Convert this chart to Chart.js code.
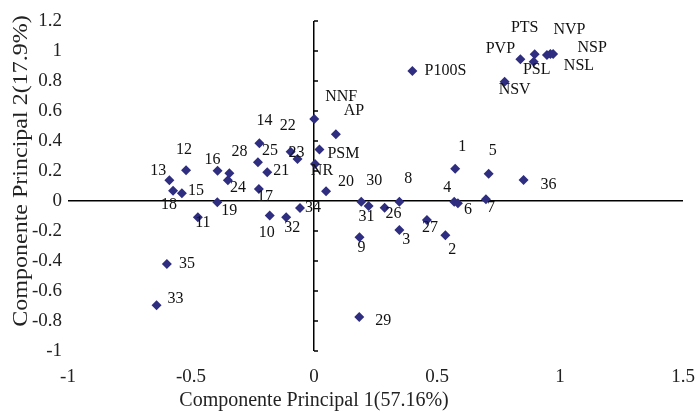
<!DOCTYPE html>
<html>
<head>
<meta charset="utf-8">
<script src="https://cdn.jsdelivr.net/npm/chart.js@4.4.1/dist/chart.umd.min.js"></script>
<style>
  html, body { margin: 0; padding: 0; background: #fff; }
</style>
</head>
<body>
<canvas id="pcaChart" width="699" height="413"></canvas>
<script>
const pointNames = ['1', '2', '3', '4', '5', '6', '7', '8', '9', '10', '11', '12',
    '13', '14', '15', '16', '17', '18', '19', '20', '21', '22', '23', '24',
    '25', '26', '27', '28', '29', '30', '31', '32', '33', '34', '35', '36',
    'NNF', 'AP', 'PSM', 'NR', 'P100S', 'PVP', 'PTS', 'PSL', 'NSL', 'NVP', 'NSP', 'NSV'];

const pc1 = [0.574, 0.534, 0.347, 0.570, 0.710, 0.585, 0.699, 0.347, 0.185, -0.180, -0.472, -0.520,
    -0.588, -0.222, -0.537, -0.392, -0.224, -0.573, -0.393, 0.049, -0.190, -0.095, -0.067, -0.350,
    -0.228, 0.287, 0.459, -0.344, 0.184, 0.192, 0.222, -0.113, -0.640, -0.057, -0.598, 0.852,
    0.001, 0.089, 0.022, 0.004, 0.400, 0.839, 0.897, 0.893, 0.947, 0.961, 0.972, 0.775];

const pc2 = [0.215, -0.229, -0.193, -0.005, 0.182, -0.015, 0.011, -0.005, -0.242, -0.097, -0.109, 0.205,
    0.138, 0.385, 0.051, 0.202, 0.080, 0.069, -0.009, 0.065, 0.191, 0.329, 0.280, 0.138,
    0.258, -0.045, -0.127, 0.185, -0.773, -0.005, -0.033, -0.109, -0.695, -0.047, -0.420, 0.140,
    0.547, 0.445, 0.343, 0.247, 0.867, 0.945, 0.978, 0.929, 0.973, 0.980, 0.980, 0.795];

const xTickValues = [-1, -0.5, 0, 0.5, 1, 1.5];
const yTickValues = [-1, -0.8, -0.6, -0.4, -0.2, 0, 0.2, 0.4, 0.6, 0.8, 1, 1.2];

const xTitle = 'Componente Principal 1(57.16%)';
const yTitle = 'Componente Principal 2(17.9%)';

// where each name is written relative to its marker, in pixels
const labelOffsets = {
    '1': [7, -22], '2': [7, 14], '3': [7, 10], '4': [-7, -14], '5': [4, -23], '6': [10, 7],
    '7': [5, 8], '8': [9, -23], '9': [2, 10], '10': [-3, 17], '11': [5, 5], '12': [-2, -20],
    '13': [-11, -10], '14': [5, -22], '15': [14, -3], '16': [-5, -11], '17': [6, 8], '18': [-4, 14],
    '19': [12, 8], '20': [20, -9], '21': [14, -2], '22': [-3, -26], '23': [-1, -6], '24': [10, 7],
    '25': [12, -12], '26': [9, 6], '27': [3, 8], '28': [10, -21], '29': [24, 4], '30': [13, -21],
    '31': [-2, 11], '32': [6, 10], '33': [19, -6], '34': [13, 0], '35': [20, 0], '36': [25, 5],
    'NNF': [27, -22], 'AP': [18, -23], 'PSM': [24, 4], 'NR': [7, 7], 'P100S': [33, 0],
    'PVP': [-20, -10], 'PTS': [-10, -27], 'PSL': [3, 8], 'NSL': [32, 11], 'NVP': [19, -24],
    'NSP': [39, -6], 'NSV': [10, 8]
};

const SERIF = '"Liberation Serif", "Times New Roman", serif';
const MARK = '#2E2D80';

const points = pc1.map((x, i) => ({ x: x, y: pc2[i] }));

const pointNamePlugin = {
    id: 'pointNames',
    afterDatasetsDraw(chart) {
        const ctx = chart.ctx;
        const meta = chart.getDatasetMeta(0);
        ctx.save();
        ctx.font = '16px ' + SERIF;
        ctx.fillStyle = '#111';
        ctx.textAlign = 'center';
        ctx.textBaseline = 'middle';
        meta.data.forEach((el, i) => {
            const name = pointNames[i];
            const off = labelOffsets[name] || [0, -12];
            ctx.fillText(name, el.x + off[0], el.y + off[1]);
        });
        ctx.restore();
    }
};

const axisPlugin = {
    id: 'crossAxes',
    afterDraw(chart) {
        const ctx = chart.ctx;
        const xs = chart.scales.x;
        const ys = chart.scales.y;
        const x0 = xs.getPixelForValue(0);
        ctx.save();
        // small tick marks on the vertical axis
        ctx.strokeStyle = '#000';
        ctx.lineWidth = 1.5;
        ctx.beginPath();
        yTickValues.forEach(v => {
            const y = ys.getPixelForValue(v);
            ctx.moveTo(x0, y);
            ctx.lineTo(x0 + 4, y);
        });
        ctx.stroke();

        // axis titles
        ctx.fillStyle = '#222';
        ctx.font = '20px ' + SERIF;
        ctx.textAlign = 'center';
        ctx.textBaseline = 'middle';
        ctx.fillText(xTitle, 314, 401);

        ctx.translate(22, 171);
        ctx.rotate(-Math.PI / 2);
        ctx.scale(1.2, 1);
        ctx.fillText(yTitle, 0, 0);
        ctx.restore();
    }
};

const zeroLine = c => (c.tick && c.tick.value === 0) ? '#000' : 'rgba(0,0,0,0)';

new Chart(document.getElementById('pcaChart'), {
    type: 'scatter',
    data: {
        datasets: [{
            data: points,
            pointStyle: 'rectRot',
            pointRadius: 5,
            backgroundColor: MARK,
            borderColor: MARK,
            borderWidth: 0
        }]
    },
    options: {
        responsive: false,
        animation: false,
        events: [],
        layout: { padding: { top: 21, right: 16, left: 0, bottom: 0 } },
        plugins: {
            legend: { display: false },
            tooltip: { enabled: false }
        },
        scales: {
            x: {
                type: 'linear',
                min: -1,
                max: 1.5,
                afterBuildTicks: axis => { axis.ticks = xTickValues.map(v => ({ value: v })); },
                afterFit: axis => {
                    axis.height = 62;
                    axis.paddingLeft = 0;
                    axis.paddingRight = 0;
                },
                border: { display: false },
                grid: { color: zeroLine, lineWidth: 1.5, drawTicks: false },
                ticks: {
                    padding: 15,
                    color: '#222',
                    font: { family: SERIF, size: 19 },
                    callback: v => String(v)
                }
            },
            y: {
                type: 'linear',
                min: -1,
                max: 1.2,
                afterBuildTicks: axis => { axis.ticks = yTickValues.map(v => ({ value: v })); },
                afterFit: axis => {
                    axis.width = 68;
                    axis.paddingTop = 0;
                    axis.paddingBottom = 0;
                },
                border: { display: false },
                grid: { color: zeroLine, lineWidth: 1.5, drawTicks: false },
                ticks: {
                    padding: 6,
                    color: '#222',
                    font: { family: SERIF, size: 19 },
                    callback: v => String(v)
                }
            }
        }
    },
    plugins: [pointNamePlugin, axisPlugin]
});
</script>
</body>
</html>
